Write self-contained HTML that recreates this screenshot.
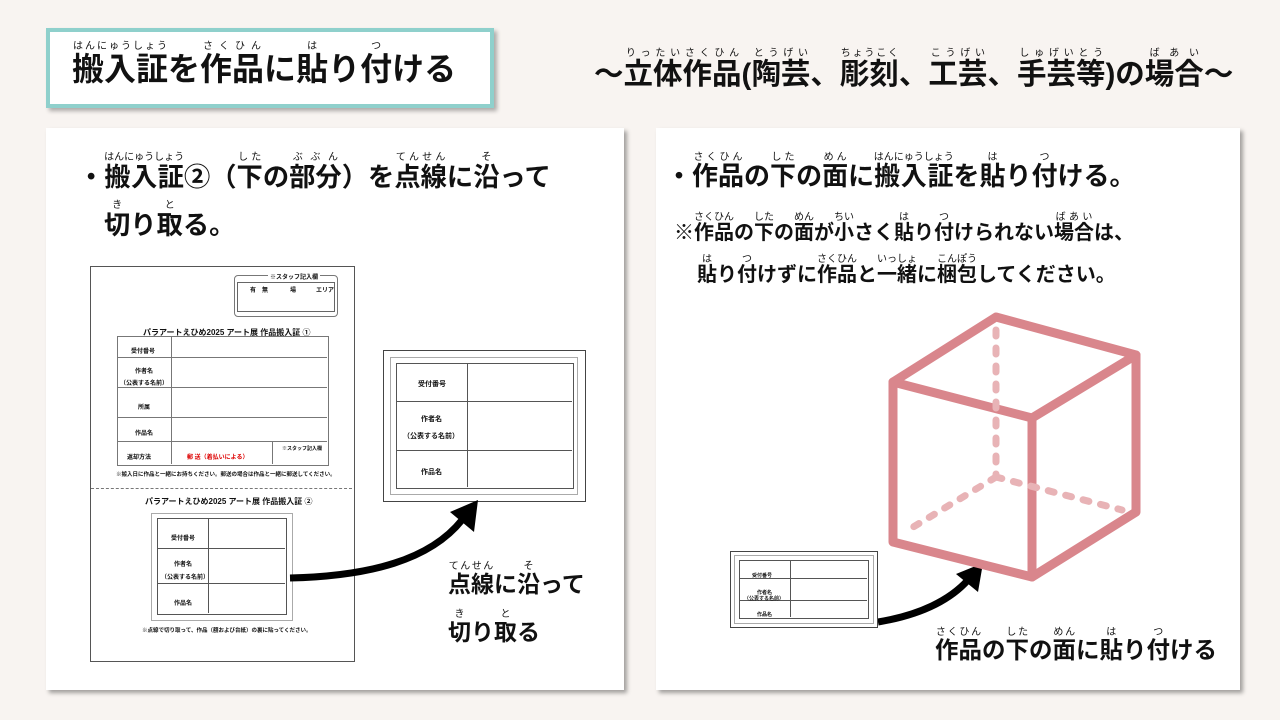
<!DOCTYPE html>
<html><head><meta charset="utf-8">
<style>
body{margin:0;width:1280px;height:720px;background:#f8f4f1;position:relative;overflow:hidden;font-family:"Liberation Sans","Noto Sans CJK JP",sans-serif;color:#111}
.a{position:absolute;white-space:nowrap}
.t{font-weight:bold}
rt{font-size:10px;font-weight:normal}
.panel{position:absolute;background:#fff;box-shadow:3px 3px 4px rgba(0,0,0,.35)}
.doc{font-size:6px;font-weight:bold}
</style></head><body>
<div class="a" style="left:46px;top:28px;width:440px;height:72px;background:#fff;border:4px solid #8fd0cc;box-shadow:3px 3px 4px rgba(0,0,0,.3)"></div>
<div class="a t" style="left:72px;top:41px;font-size:32px;line-height:56px"><ruby>搬入証<rt>はんにゅうしょう</rt></ruby>を<ruby>作品<rt>さくひん</rt></ruby>に<ruby>貼<rt>は</rt></ruby>り<ruby>付<rt>つ</rt></ruby>ける</div>
<div class="a t" style="left:594px;top:48px;font-size:29.5px;line-height:52px">～<ruby>立体作品<rt>りったいさくひん</rt></ruby>(<ruby>陶芸<rt>とうげい</rt></ruby>、<ruby>彫刻<rt>ちょうこく</rt></ruby>、<ruby>工芸<rt>こうげい</rt></ruby>、<ruby>手芸等<rt>しゅげいとう</rt></ruby>)の<ruby>場合<rt>ばあい</rt></ruby>～</div>

<div class="panel" style="left:46px;top:128px;width:578px;height:562px"></div>
<div class="panel" style="left:656px;top:128px;width:584px;height:562px"></div>

<div class="a t" style="left:78px;top:152px;font-size:26.3px;line-height:48px">・<ruby>搬入証<rt>はんにゅうしょう</rt></ruby>②（<ruby>下<rt>した</rt></ruby>の<ruby>部分<rt>ぶぶん</rt></ruby>）を<ruby>点線<rt>てんせん</rt></ruby>に<ruby>沿<rt>そ</rt></ruby>って</div>
<div class="a t" style="left:104px;top:200px;font-size:26.3px;line-height:44px"><ruby>切<rt>き</rt></ruby>り<ruby>取<rt>と</rt></ruby>る。</div>

<!-- document -->
<div class="a" style="left:90px;top:266px;width:263px;height:394px;border:1px solid #555;background:#fff"></div>
<div class="a" style="left:234px;top:275px;width:102px;height:40px;border:1px solid #777;border-radius:4px"></div>
<div class="a doc" style="left:268px;top:272px;background:#fff;padding:0 2px">※スタッフ記入欄</div>
<div class="a" style="left:237px;top:282px;width:96px;height:28px;border:1px solid #666"></div>
<div class="a doc" style="left:250px;top:285px">有　無</div><div class="a doc" style="left:290px;top:285px">場</div><div class="a doc" style="left:316px;top:285px">エリア</div>
<div class="a" style="left:143px;top:327px;font-size:8px;font-weight:bold">パラアートえひめ2025 アート展 作品搬入証 ①</div>
<div class="a" style="left:117px;top:336px;width:210px;height:128px;border:1px solid #777"></div>
<div class="a" style="left:117px;top:357px;width:210px;border-top:1px solid #777"></div>
<div class="a" style="left:117px;top:387px;width:210px;border-top:1px solid #777"></div>
<div class="a" style="left:117px;top:417px;width:210px;border-top:1px solid #777"></div>
<div class="a" style="left:117px;top:441px;width:210px;border-top:1px solid #777"></div>
<div class="a" style="left:171px;top:336px;height:128px;border-left:1px solid #777"></div>
<div class="a" style="left:272px;top:441px;height:23px;border-left:1px solid #777"></div>
<div class="a doc" style="left:131px;top:346px">受付番号</div>
<div class="a doc" style="left:135px;top:366px">作者名</div>
<div class="a doc" style="left:120px;top:378px">（公表する名前）</div>
<div class="a doc" style="left:138px;top:402px">所属</div>
<div class="a doc" style="left:135px;top:428px">作品名</div>
<div class="a doc" style="left:127px;top:452px">返却方法</div>
<div class="a doc" style="left:187px;top:452px;color:#d00">郵 送（着払いによる）</div>
<div class="a doc" style="left:282px;top:445px;font-size:5px">※スタッフ記入欄</div>
<div class="a doc" style="left:116px;top:470px;font-size:5.5px">※搬入日に作品と一緒にお持ちください。郵送の場合は作品と一緒に郵送してください。</div>
<div class="a" style="left:91px;top:488px;width:261px;border-top:1px dashed #777"></div>
<div class="a" style="left:145px;top:496px;font-size:8px;font-weight:bold">パラアートえひめ2025 アート展 作品搬入証 ②</div>
<div class="a" style="left:151px;top:513px;width:140px;height:106px;border:1px solid #aaa"></div>
<div class="a" style="left:157px;top:518px;width:128px;height:95px;border:1px solid #555"></div>
<div class="a" style="left:157px;top:548px;width:128px;border-top:1px solid #555"></div>
<div class="a" style="left:157px;top:583px;width:128px;border-top:1px solid #555"></div>
<div class="a" style="left:208px;top:518px;height:95px;border-left:1px solid #555"></div>
<div class="a doc" style="left:171px;top:533px">受付番号</div>
<div class="a doc" style="left:174px;top:559px">作者名</div>
<div class="a doc" style="left:161px;top:572px">（公表する名前）</div>
<div class="a doc" style="left:174px;top:598px">作品名</div>
<div class="a doc" style="left:142px;top:626px;font-size:5.5px">※点線で切り取って、作品（額および台紙）の裏に貼ってください。</div>

<!-- card left -->
<div class="a" style="left:383px;top:350px;width:201px;height:150px;border:1px solid #444;background:#fff"></div>
<div class="a" style="left:390px;top:357px;width:186px;height:136px;border:1px solid #aaa"></div>
<div class="a" style="left:396px;top:363px;width:176px;height:124px;border:1px solid #555"></div>
<div class="a" style="left:396px;top:401px;width:176px;border-top:1px solid #555"></div>
<div class="a" style="left:396px;top:450px;width:176px;border-top:1px solid #555"></div>
<div class="a" style="left:467px;top:363px;height:124px;border-left:1px solid #555"></div>
<div class="a doc" style="left:418px;top:379px;font-size:7px">受付番号</div>
<div class="a doc" style="left:421px;top:414px;font-size:7px">作者名</div>
<div class="a doc" style="left:403px;top:431px;font-size:7px">（公表する名前）</div>
<div class="a doc" style="left:421px;top:467px;font-size:7px">作品名</div>

<svg class="a" style="left:0;top:0" width="1280" height="720">
<path d="M290 578 C370 576 430 560 462 520" stroke="#000" stroke-width="7" fill="none"/>
<polygon points="478,500 450,512 474,532" fill="#000"/>
<path d="M878 622 C920 615 950 600 968 580" stroke="#000" stroke-width="7" fill="none"/>
<polygon points="983,563 956,574 978,592" fill="#000"/>
<g stroke="#d9868c" stroke-width="9" stroke-linecap="round" stroke-linejoin="round" fill="none">
<path d="M893 382 L996 317 L1136 355 L1032 418 Z"/>
<path d="M893 382 L893 542 L1032 577 L1032 418"/>
<path d="M1136 355 L1136 512 L1032 577"/>
</g>
<g stroke="#e8b3b6" stroke-width="7" stroke-linecap="round" stroke-dasharray="6 12" fill="none">
<path d="M996 330 L996 477"/><path d="M996 477 L905 532"/><path d="M996 477 L1122 510"/>
</g>
</svg>

<div class="a t" style="left:448px;top:561px;font-size:23px;line-height:46px"><ruby>点線<rt>てんせん</rt></ruby>に<ruby>沿<rt>そ</rt></ruby>って</div>
<div class="a t" style="left:448px;top:609px;font-size:23px;line-height:46px"><ruby>切<rt>き</rt></ruby>り<ruby>取<rt>と</rt></ruby>る</div>

<div class="a t" style="left:666px;top:151px;font-size:26px;line-height:50px">・<ruby>作品<rt>さくひん</rt></ruby>の<ruby>下<rt>した</rt></ruby>の<ruby>面<rt>めん</rt></ruby>に<ruby>搬入証<rt>はんにゅうしょう</rt></ruby>を<ruby>貼<rt>は</rt></ruby>り<ruby>付<rt>つ</rt></ruby>ける。</div>
<div class="a t" style="left:674px;top:211px;font-size:20px;line-height:44px">※<ruby>作品<rt>さくひん</rt></ruby>の<ruby>下<rt>した</rt></ruby>の<ruby>面<rt>めん</rt></ruby>が<ruby>小<rt>ちい</rt></ruby>さく<ruby>貼<rt>は</rt></ruby>り<ruby>付<rt>つ</rt></ruby>けられない<ruby>場合<rt>ばあい</rt></ruby>は、</div>
<div class="a t" style="left:697px;top:253px;font-size:20px;line-height:44px"><ruby>貼<rt>は</rt></ruby>り<ruby>付<rt>つ</rt></ruby>けずに<ruby>作品<rt>さくひん</rt></ruby>と<ruby>一緒<rt>いっしょ</rt></ruby>に<ruby>梱包<rt>こんぽう</rt></ruby>してください。</div>

<!-- card right -->
<div class="a" style="left:730px;top:551px;width:146px;height:75px;border:1px solid #444;background:#fff"></div>
<div class="a" style="left:734px;top:555px;width:138px;height:67px;border:1px solid #aaa"></div>
<div class="a" style="left:739px;top:560px;width:128px;height:57px;border:1px solid #555"></div>
<div class="a" style="left:739px;top:578px;width:128px;border-top:1px solid #555"></div>
<div class="a" style="left:739px;top:600px;width:128px;border-top:1px solid #555"></div>
<div class="a" style="left:790px;top:560px;height:57px;border-left:1px solid #555"></div>
<div class="a doc" style="left:752px;top:572px;font-size:5px">受付番号</div>
<div class="a doc" style="left:757px;top:589px;font-size:5px">作者名</div>
<div class="a doc" style="left:744px;top:595px;font-size:5px">（公表する名前）</div>
<div class="a doc" style="left:757px;top:611px;font-size:5px">作品名</div>

<div class="a t" style="left:935px;top:627px;font-size:23.5px;line-height:46px"><ruby>作品<rt>さくひん</rt></ruby>の<ruby>下<rt>した</rt></ruby>の<ruby>面<rt>めん</rt></ruby>に<ruby>貼<rt>は</rt></ruby>り<ruby>付<rt>つ</rt></ruby>ける</div>
</body></html>
